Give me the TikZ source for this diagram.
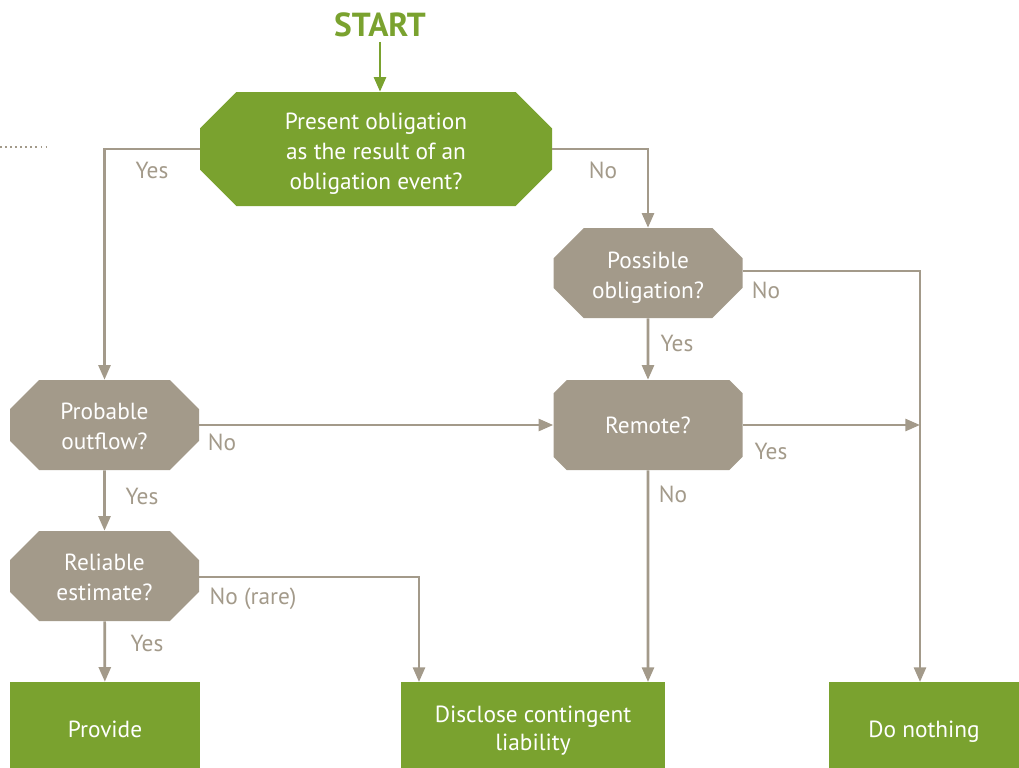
\documentclass[tikz,border=0pt]{standalone}
\usepackage{fontspec}
\setmainfont{PT Sans}
\usetikzlibrary{arrows.meta, shapes.misc, positioning}
\definecolor{LeafGreen}{HTML}{7AA22F}
\definecolor{Taupe}{HTML}{A39A8A}

\tikzset{
    question/.style={chamfered rectangle, chamfered rectangle xsep=24pt,
        fill=Taupe, text=white, align=center, inner sep=0pt,
        minimum width=141.75pt, minimum height=67.5pt,
        font=\fontsize{17.5}{22.5}\selectfont, text depth=0pt, text height=37pt},
    outcome/.style={rectangle, fill=LeafGreen, text=white, align=center,
        inner sep=0pt, minimum width=142.5pt, minimum height=64.5pt,
        font=\fontsize{17.5}{21}\selectfont, text depth=0pt, text height=18.5pt},
    answer/.style={text=Taupe, inner sep=0pt, font=\fontsize{17.5}{18}\selectfont},
    flow/.style={draw=Taupe, line width=2pt, -{Triangle[width=9pt, length=11pt]}}
}

\begin{document}
\begin{tikzpicture}[x=0.75pt, y=-0.75pt]
    \useasboundingbox (0,0) rectangle (1019,767);
    \draw[Taupe, line width=1.3pt, dash pattern=on 1.3pt off 2.5pt] (0,147) -- (48,147);

    % start
    \node[text=LeafGreen, font=\fontsize{25}{28}\bfseries] (start) at (380,25) {START};
    \node[question, fill=LeafGreen, minimum width=264pt, minimum height=85.5pt, text height=61pt]
        (present) at (376,149) {Present obligation\\as the result of an\\obligation event?};
    \draw[draw=LeafGreen, line width=2pt, -{Triangle[width=9pt, length=11pt]}] (start) -- (present.north -| start);

    % questions
    \node[question, text height=38.7pt] (possible) at (648,273) {Possible\\obligation?};
    \node[question, text height=13.2pt] (remote) at (648,425) {Remote?};
    \node[question] (probable) at (104.5,425) {Probable\\outflow?};
    \node[question] (reliable) at (104.5,576) {Reliable\\estimate?};

    % outcomes
    \node[outcome] (provide) at (105,725) {Provide};
    \node[outcome, minimum width=198pt, text height=37.7pt] (disclose) at (533,725) {Disclose contingent\\liability};
    \node[outcome] (nothing) at (924,725) {Do nothing};

    \coordinate (nothingin) at (920,682);
    \coordinate (yesjoin) at (920,425);
    \coordinate (discin) at (419,682);

    % connectors
    \draw[flow] (present.west) -| (probable.north);
    \draw[flow] (present.east) -| (possible.north);
    \draw[flow] (possible.east |- 0,271) -| (nothingin);
    \draw[flow] (possible) -- (remote);
    \draw[flow] (remote.east) -- (yesjoin);
    \draw[flow] (remote) -- (remote |- discin);
    \draw[flow] (probable.east) -- (remote.west);
    \draw[flow] (probable) -- (reliable);
    \draw[flow] (reliable.east |- 0,577) -| (discin);
    \draw[flow] (reliable) -- (provide);

    % answers
    \node[answer] (a1) at (152,170) {Yes};
    \node[answer] (a2) at (603,170) {No};
    \node[answer] (a3) at (766,290) {No};
    \node[answer] (a4) at (677,343) {Yes};
    \node[answer] (a5) at (771,451) {Yes};
    \node[answer] (a6) at (673,494) {No};
    \node[answer] (a7) at (222,442) {No};
    \node[answer] (a8) at (142,496) {Yes};
    \node[answer] (a9) at (253,599) {No (rare)};
    \node[answer] (a10) at (147,643) {Yes};
\end{tikzpicture}
\end{document}
